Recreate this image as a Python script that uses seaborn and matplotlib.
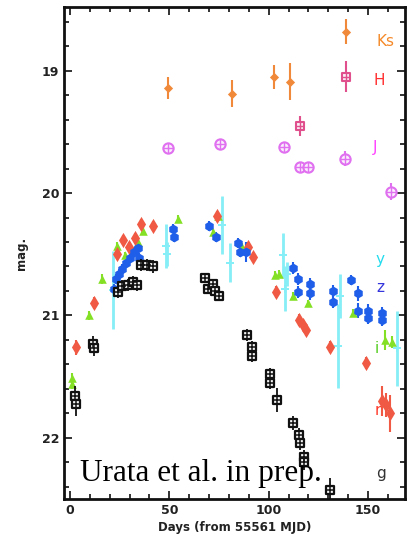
import numpy as np
import pandas as pd
import matplotlib
matplotlib.use("Agg")
import matplotlib.pyplot as plt
import seaborn as sns
from matplotlib.ticker import MultipleLocator

# ---- data (days from 55561 MJD, magnitude, error) ----
g_day = [2.5, 3.0, 11.5, 12.0, 24, 26, 29, 31.5, 33.5, 36, 39, 42, 68, 69.5, 72, 73, 75,
         89, 91.5, 91.5, 100.5, 100.5, 104, 112, 115.5, 116, 118, 118, 131]
g_mag = [21.66, 21.72, 21.23, 21.27, 20.81, 20.76, 20.75, 20.73, 20.75, 20.59, 20.59, 20.60,
         20.69, 20.78, 20.74, 20.80, 20.84, 21.16, 21.26, 21.33, 21.48, 21.55, 21.69, 21.88,
         21.98, 22.04, 22.16, 22.20, 22.43]
g_err = [0.08, 0.1, 0.06, 0.06, 0.05, 0.05, 0.05, 0.05, 0.05, 0.05, 0.05, 0.05, 0.04, 0.04,
         0.04, 0.04, 0.04, 0.05, 0.05, 0.05, 0.05, 0.05, 0.1, 0.06, 0.06, 0.06, 0.06, 0.06, 0.1]

r_day = [3, 12, 23.6, 26.8, 29.7, 32.7, 35.7, 41.8, 74, 89.5, 92, 103.7, 115.5, 117.5, 119,
         131, 149, 157, 159, 161]
r_mag = [21.26, 20.90, 20.50, 20.38, 20.44, 20.37, 20.25, 20.27, 20.19, 20.44, 20.52, 20.81,
         21.04, 21.08, 21.12, 21.26, 21.39, 21.70, 21.73, 21.80]
r_err = [0.06, 0.05, 0.04, 0.04, 0.04, 0.04, 0.04, 0.04, 0.04, 0.04, 0.04, 0.05, 0.05, 0.05,
         0.05, 0.05, 0.05, 0.12, 0.10, 0.15]

i_day = [1, 1, 9.6, 16, 23.6, 27.7, 34, 36.7, 54.6, 72, 74.5, 86.5, 103, 105, 112, 120,
         142.5, 158.5, 162]
i_mag = [21.51, 21.56, 21.00, 20.70, 20.43, 20.51, 20.40, 20.31, 20.21, 20.32, 20.19, 20.44,
         20.67, 20.66, 20.84, 20.90, 20.98, 21.20, 21.22]
i_err = [0.04, 0.04, 0.04, 0.04, 0.03, 0.03, 0.03, 0.03, 0.03, 0.03, 0.03, 0.03, 0.03, 0.03,
         0.03, 0.03, 0.03, 0.08, 0.05]

z_day = [22, 23, 24.5, 26, 28, 30, 32, 34, 34.5, 52, 52.5, 70, 73.5, 84.5, 85.5, 88.5, 112,
         115, 115, 121, 121, 132.5, 132.5, 141.5, 145, 145, 150, 150, 157, 157]
z_mag = [20.78, 20.70, 20.66, 20.62, 20.57, 20.53, 20.48, 20.45, 20.53, 20.29, 20.36, 20.27,
         20.36, 20.41, 20.48, 20.48, 20.61, 20.70, 20.81, 20.74, 20.82, 20.80, 20.89, 20.71,
         20.82, 20.96, 20.96, 21.02, 20.98, 21.04]
z_err = [0.04, 0.04, 0.04, 0.04, 0.04, 0.04, 0.04, 0.04, 0.04, 0.04, 0.04, 0.04, 0.04, 0.04,
         0.04, 0.08, 0.05, 0.05, 0.05, 0.05, 0.05, 0.05, 0.05, 0.04, 0.06, 0.06, 0.05, 0.05,
         0.05, 0.05]

y_day = [21.6, 48.3, 49.0, 76.3, 80.5, 107.2, 109.2, 108.2, 134.9, 135.9, 164.6]
y_mag = [20.79, 20.43, 20.50, 20.26, 20.57, 20.51, 20.66, 20.78, 21.25, 20.84, 21.27]
y_err = [0.32, 0.18, 0.10, 0.24, 0.16, 0.18, 0.10, 0.18, 0.34, 0.18, 0.31]

J_day = [49.2, 75.5, 107.7, 115.7, 119.8, 138.4, 161.4]
J_mag = [19.63, 19.60, 19.62, 19.79, 19.79, 19.72, 19.99]
J_err = [0.03, 0.03, 0.03, 0.04, 0.04, 0.06, 0.07]

H_day = [115.7, 138.8]
H_mag = [19.45, 19.05]
H_err = [0.08, 0.125]

Ks_day = [49.3, 81.5, 102.8, 110.8, 138.8]
Ks_mag = [19.14, 19.19, 19.05, 19.09, 18.68]
Ks_err = [0.09, 0.11, 0.10, 0.15, 0.10]

band_names = ["Ks", "H", "J", "y", "z", "i", "r", "g"]
band_label_day = [154.5, 153.0, 152.5, 154.0, 154.0, 153.5, 153.5, 154.0]
band_label_mag = [18.76, 19.08, 19.63, 20.54, 20.77, 21.27, 21.78, 22.29]

# ---- styles ----
C_KS = "#f08a3a"
C_H = "#e0508c"
C_J = "#e070f0"
C_Y = "#86eef6"
C_Z = "#1e5ee8"
C_I = "#84e024"
C_R = "#f05a44"
C_G = "#111111"
label_colors = ["#f58a2a", "#ff3030", "#ff40ff", "#22dcee", "#3535dd", "#55cc22", "#ff3a2a", "#333333"]

sns.set_style("ticks")
plt.rcParams["font.family"] = ["DejaVu Sans"]

fig = plt.figure(figsize=(4.11, 5.41), dpi=100)
ax = fig.add_axes([0.1557, 0.0776, 0.9854 - 0.1557, 0.987 - 0.0776])


def band(day, mag, err, color, marker, size, ecolor=None, elw=1.5, face=None, edge=None,
         lw=0.0, z=3, overlay=None, overlay_size=None, overlay_lw=1.0):
    df = pd.DataFrame({"day": day, "mag": mag})
    ax.errorbar(day, mag, yerr=err, fmt="none", ecolor=ecolor or color, elinewidth=elw,
                capsize=0, zorder=z - 0.5)
    sns.scatterplot(data=df, x="day", y="mag", ax=ax, marker=marker, s=size,
                    color=face if face is not None else color,
                    edgecolor=edge if edge is not None else color, linewidth=lw, zorder=z,
                    legend=False)
    if overlay is not None:
        sns.scatterplot(data=df, x="day", y="mag", ax=ax, marker=overlay,
                        s=overlay_size or size, color=edge or color, linewidth=overlay_lw,
                        zorder=z + 0.1, legend=False)


# cyan y first (below)
band(y_day, y_mag, y_err, C_Y, "P", 40, elw=2.0, z=2)
band(i_day, i_mag, i_err, C_I, "^", 38, z=3)
band(r_day, r_mag, r_err, C_R, "d", 60, z=3.2)
band(z_day, z_mag, z_err, C_Z, "h", 50, z=3.4)
band(g_day, g_mag, g_err, C_G, "s", 38, face="#f4f4f4", edge=C_G, lw=1.6, z=4,
     overlay="+", overlay_size=38, overlay_lw=1.1, elw=1.3)
band(J_day, J_mag, J_err, C_J, "o", 55, face="#fbeefc", edge=C_J, lw=1.5, z=4,
     overlay="+", overlay_size=55, overlay_lw=1.0)
band(H_day, H_mag, H_err, C_H, "s", 36, face="#fbeef4", edge=C_H, lw=1.5, z=4,
     overlay="+", overlay_size=36, overlay_lw=1.0)
band(Ks_day, Ks_mag, Ks_err, C_KS, "D", 22, z=4)

for name, d, m, c in zip(band_names, band_label_day, band_label_mag, label_colors):
    ax.text(d, m, name, color=c, fontsize=11, ha="left", va="center")

ax.text(5.0, 22.35, "Urata et al. in prep.", family=["Liberation Serif", "DejaVu Serif"],
        fontsize=22.5, color="black", ha="left", va="baseline", zorder=6)

ax.set_xlim(-3.0, 168.6)
ax.set_ylim(22.5, 18.48)
ax.xaxis.set_major_locator(MultipleLocator(50))
ax.xaxis.set_minor_locator(MultipleLocator(10))
ax.yaxis.set_major_locator(MultipleLocator(1))
ax.yaxis.set_minor_locator(MultipleLocator(0.2))
ax.tick_params(which="both", direction="in", top=True, right=True, width=1.3,
               labelsize=9, colors="#222222")
ax.tick_params(which="major", length=6)
ax.tick_params(which="minor", length=3.5)
for lab in ax.get_xticklabels() + ax.get_yticklabels():
    lab.set_fontweight("bold")
for s in ax.spines.values():
    s.set_linewidth(2.0)
    s.set_color("#111111")

ax.set_xlabel("Days (from 55561 MJD)", fontsize=8.5, fontweight="bold", color="#222222", labelpad=3)
ax.set_ylabel("mag.", fontsize=8.5, fontweight="bold", color="#222222", labelpad=10)

fig.savefig("out.png", dpi=100)
